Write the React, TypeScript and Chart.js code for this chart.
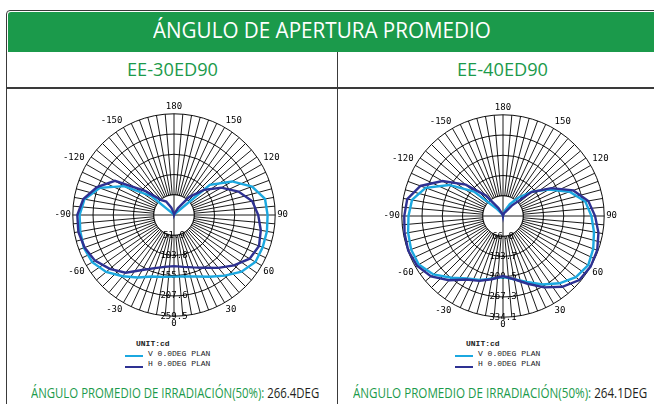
import React, { useEffect, useLayoutEffect, useRef, useState } from 'react';
import { Chart, registerables } from 'chart.js';

Chart.register(...registerables);

// ---------- text ----------
const HEADER_TITLE = 'ÁNGULO DE APERTURA PROMEDIO';
const MODELS = ['EE-30ED90', 'EE-40ED90'];
const AVG_LABEL = 'ÁNGULO PROMEDIO DE IRRADIACIÓN(50%): ';
const AVG_VALUES = ['266.4DEG', '264.1DEG'];
const UNIT_LABEL = 'UNIT:cd';
const SERIES_NAMES = ['V 0.0DEG PLAN', 'H 0.0DEG PLAN'];

// ---------- axes ----------
// spokes every 5 degrees, clockwise from the top (180 at top, 0 at bottom)
const SPOKE_ANGLES = Array.from({ length: 72 }, (_, i) => 180 - 5 * i);
// measured samples every 10 degrees
const SAMPLE_ANGLES = [
  180, 170, 160, 150, 140, 130, 120, 110, 100, 90, 80, 70, 60, 50, 40, 30, 20, 10,
  0, -10, -20, -30, -40, -50, -60, -70, -80, -90, -100, -110, -120, -130, -140, -150, -160, -170,
];

// ---------- EE-30ED90 ----------
const TICKS_30 = [51.9, 103.8, 155.7, 207.6, 259.5];
const V_30 = [
  0, 0, 0, 2, 5, 120, 172, 213, 237, 240, 242, 242, 241, 226, 203, 183, 168, 160,
  158, 161, 168, 185, 205, 227, 242, 246, 244, 242, 233, 203, 148, 75, 5, 0, 0, 0,
];
const H_30 = [
  0, 0, 5, 20, 60, 100, 140, 176, 204, 216, 226, 232, 224, 201, 177, 156, 143, 135,
  131, 135, 145, 163, 193, 215, 234, 244, 249, 248, 236, 210, 175, 95, 50, 40, 20, 5,
];

// ---------- EE-40ED90 ----------
const TICKS_40 = [66.8, 133.7, 200.5, 267.3, 334.1];
const V_40 = [
  0, 5, 20, 45, 80, 125, 175, 234, 276, 292, 305, 317, 325, 314, 290, 261, 232, 212,
  202, 210, 225, 238, 266, 300, 321, 323, 318, 312, 305, 272, 205, 125, 30, 10, 3, 0,
];
const H_40 = [
  0, 3, 10, 15, 45, 123, 184, 247, 286, 304, 320, 331, 334, 329, 305, 272, 238, 212,
  198, 212, 228, 242, 277, 310, 328, 333, 330, 326, 321, 290, 231, 161, 88, 30, 8, 2,
];

const LIGHT = '#1ba8e0';
const DARK = '#2e3192';
const GREEN = '#1b9a4b';

function expand(values: number[]) {
  return SPOKE_ANGLES.map((a) => {
    const idx = SAMPLE_ANGLES.indexOf(a);
    return idx >= 0 ? values[idx] : null;
  });
}

type PolarProps = { v: number[]; h: number[]; ticks: number[]; left: number; top: number };

function PolarChart({ v, h, ticks, left, top }: PolarProps) {
  const ref = useRef<HTMLCanvasElement>(null);
  useEffect(() => {
    if (!ref.current) return;
    const maxVal = ticks[ticks.length - 1];
    const inner = {
      id: 'innerRing',
      beforeDatasetsDraw(chart: any) {
        const s = chart.scales.r;
        const ctx = chart.ctx;
        const r1 = s.getDistanceFromCenterForValue(ticks[0]);
        ctx.save();
        ctx.beginPath();
        ctx.arc(s.xCenter, s.yCenter, r1, 0, Math.PI * 2);
        ctx.fillStyle = '#ffffff';
        ctx.fill();
        ctx.lineWidth = 0.9;
        ctx.strokeStyle = '#000';
        ctx.stroke();
        ctx.beginPath();
        ctx.moveTo(s.xCenter - r1, s.yCenter);
        ctx.lineTo(s.xCenter + r1, s.yCenter);
        ctx.moveTo(s.xCenter, s.yCenter - r1);
        ctx.lineTo(s.xCenter, s.yCenter + r1);
        ctx.stroke();
        const zeroIdx = SPOKE_ANGLES.indexOf(0);
        ctx.font = '9px "DejaVu Sans Mono"';
        ctx.fillStyle = '#000';
        ctx.textAlign = 'center';
        ctx.textBaseline = 'middle';
        ticks.forEach((t) => {
          const p = s.getPointPositionForValue(zeroIdx, t);
          ctx.fillText(t.toFixed(1), p.x, p.y);
        });
        ctx.restore();
      },
    };
    const chart = new Chart(ref.current, {
      type: 'radar',
      data: {
        labels: SPOKE_ANGLES.map(String),
        datasets: [
          {
            label: SERIES_NAMES[1],
            data: expand(h),
            borderColor: DARK,
            backgroundColor: 'transparent',
            borderWidth: 2.4,
            fill: false,
            spanGaps: true,
            pointRadius: 0,
            tension: 0,
          },
          {
            label: SERIES_NAMES[0],
            data: expand(v),
            borderColor: LIGHT,
            backgroundColor: 'transparent',
            borderWidth: 2.4,
            fill: false,
            spanGaps: true,
            pointRadius: 0,
            tension: 0,
          },
        ],
      },
      options: {
        responsive: false,
        animation: false,
        events: [],
        layout: { padding: 0 },
        plugins: { legend: { display: false }, tooltip: { enabled: false } },
        scales: {
          r: {
            min: 0,
            max: maxVal,
            afterBuildTicks: (scale: any) => {
              scale.ticks = [0, ...ticks].map((value) => ({ value }));
            },
            ticks: { display: false },
            grid: { circular: true, color: '#000', lineWidth: 0.95 },
            angleLines: { color: '#000', lineWidth: 0.9 },
            pointLabels: {
              display: true,
              padding: 2,
              color: '#000',
              font: { family: 'DejaVu Sans Mono', size: 9 },
              callback: (label: string) => (Number(label) % 30 === 0 ? label : ''),
            },
          },
        },
      } as any,
      plugins: [inner],
    });
    return () => chart.destroy();
  }, [v, h, ticks]);
  return (
    <canvas
      ref={ref}
      width={300}
      height={228}
      style={{ position: 'absolute', left, top, width: 300, height: 228 }}
    />
  );
}

type FitProps = {
  x: number;
  cy: number;
  width: number;
  size: number;
  color: string;
  children: React.ReactNode;
  family?: string;
};

function FitText({ x, cy, width, size, color, children, family }: FitProps) {
  const ref = useRef<HTMLDivElement>(null);
  const [k, setK] = useState(1);
  useLayoutEffect(() => {
    if (ref.current) {
      const w = ref.current.offsetWidth;
      if (w > 0) setK(width / w);
    }
  }, [width]);
  return (
    <div
      ref={ref}
      style={{
        position: 'absolute',
        left: x,
        top: cy - 0.531 * size,
        fontFamily: family || '"Open Sans", sans-serif',
        fontSize: size,
        lineHeight: 1,
        color,
        whiteSpace: 'nowrap',
        transform: `scaleX(${k})`,
        transformOrigin: 'left center',
      }}
    >
      {children}
    </div>
  );
}

function Legend({ x }: { x: number }) {
  const mono: React.CSSProperties = {
    position: 'absolute',
    fontFamily: '"Liberation Mono", monospace',
    fontSize: 8,
    lineHeight: '10px',
    fontWeight: 'bold',
    color: '#222',
    whiteSpace: 'nowrap',
  };
  return (
    <>
      <div style={{ ...mono, left: x + 11, top: 339 }}>{UNIT_LABEL}</div>
      <div style={{ position: 'absolute', left: x, top: 355, width: 18, height: 2, background: LIGHT }} />
      <div style={{ ...mono, left: x + 23, top: 349, fontWeight: 'normal' }}>{SERIES_NAMES[0]}</div>
      <div style={{ position: 'absolute', left: x, top: 366, width: 18, height: 2, background: DARK }} />
      <div style={{ ...mono, left: x + 23, top: 359, fontWeight: 'normal' }}>{SERIES_NAMES[1]}</div>
    </>
  );
}

export default function App() {
  return (
    <div
      style={{
        position: 'fixed',
        left: 0,
        top: 0,
        width: 654,
        height: 404,
        overflow: 'hidden',
        background: '#fff',
      }}
    >
      {/* frame */}
      <div
        style={{
          position: 'absolute',
          left: 6,
          top: 10,
          width: 680,
          height: 420,
          border: '1.5px solid #3a3a3a',
          borderTopLeftRadius: 4,
          boxSizing: 'border-box',
        }}
      />
      <div style={{ position: 'absolute', left: 7.5, top: 11.5, width: 680, height: 40.5, background: GREEN, borderTopLeftRadius: 3 }} />
      <div style={{ position: 'absolute', left: 6, top: 87, width: 680, height: 1.5, background: '#3a3a3a' }} />
      <div style={{ position: 'absolute', left: 337, top: 52, width: 1, height: 360, background: '#3a3a3a' }} />

      <FitText x={153} cy={31} width={338} size={21} color="#ffffff">
        {HEADER_TITLE}
      </FitText>
      <FitText x={127} cy={70} width={91} size={18} color={GREEN}>
        {MODELS[0]}
      </FitText>
      <FitText x={457} cy={70} width={91} size={18} color={GREEN}>
        {MODELS[1]}
      </FitText>

      <PolarChart v={V_30} h={H_30} ticks={TICKS_30} left={24} top={102} />
      <PolarChart v={V_40} h={H_40} ticks={TICKS_40} left={353} top={103} />

      <Legend x={125} />
      <Legend x={455} />

      <FitText x={31} cy={393} width={288} size={14} color={GREEN}>
        {AVG_LABEL}
        <span style={{ color: '#231f20' }}>{AVG_VALUES[0]}</span>
      </FitText>
      <FitText x={353} cy={393} width={294} size={14} color={GREEN}>
        {AVG_LABEL}
        <span style={{ color: '#231f20' }}>{AVG_VALUES[1]}</span>
      </FitText>
    </div>
  );
}
